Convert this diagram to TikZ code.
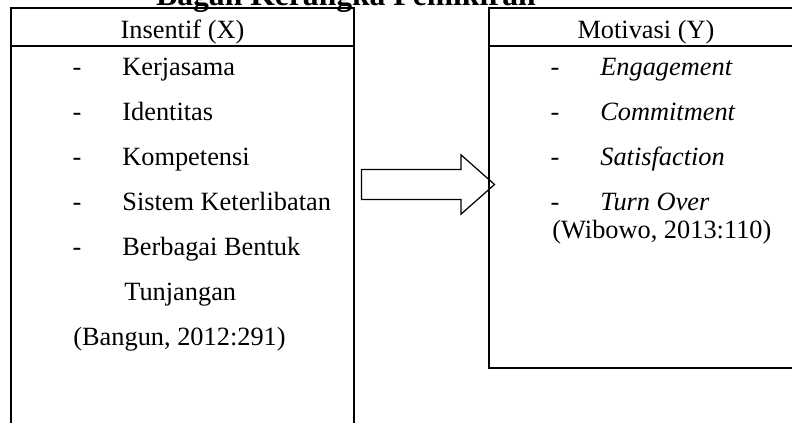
\documentclass[tikz,border=0pt]{standalone}
\usepackage{fontspec}
\setmainfont{Liberation Serif}
\usetikzlibrary{shapes.arrows}

\tikzset{
  kotak/.style={line width=0.7pt},
  strip/.style={anchor=base, inner sep=0pt, font=\fontsize{15}{18}\selectfont},
  butir/.style={anchor=base west, inner sep=0pt, font=\fontsize{15}{18}\selectfont},
  miring/.style={butir, font=\fontsize{15}{18}\selectfont\itshape},
  judul/.style={anchor=base, inner sep=0pt, font=\fontsize{18}{22}\selectfont\bfseries},
  panah/.style={draw, line width=0.7pt, shape=single arrow, single arrow head extend=0.29cm,
    single arrow tip angle=83, single arrow head indent=0pt, inner xsep=0pt, inner ysep=0.29cm,
    minimum height=2.66cm, outer sep=0pt}
}

\begin{document}
\begin{tikzpicture}[x=0.02cm, y=-0.02cm]
    \useasboundingbox (0,0) rectangle (792,423);

    % Judul (terpotong di atas)
    \node[judul] (judul) at (346,5) {Bagan Kerangka Pemikiran};

    % Kotak kiri: Insentif
    \draw[kotak] (11,8) rectangle (354,440);
    \draw[kotak] (11,46) -- (354,46);
    \node[strip] (insentif) at (182.5,38) {Insentif (X)};
    \foreach \teks [count=\i] in {Kerjasama, Identitas, Kompetensi, Sistem Keterlibatan, Berbagai Bentuk} {
        \node[strip] (sx\i) at (77,30+45*\i) {-};
        \node[butir] (x\i) at (122,30+45*\i) {\teks};
    }
    \node[butir] (tunjangan) at (124,300) {Tunjangan};
    \node[butir] (bangun) at (73,345) {(Bangun, 2012:291)};

    % Kotak kanan: Motivasi
    \draw[kotak] (489,8) rectangle (810,368);
    \draw[kotak] (489,46) -- (810,46);
    \node[strip] (motivasi) at (646,38) {Motivasi (Y)};
    \foreach \teks [count=\i] in {Engagement, Commitment, Satisfaction, Turn Over} {
        \node[strip] (sy\i) at (555,30+45*\i) {-};
        \node[miring] (y\i) at (600,30+45*\i) {\teks};
    }
    \node[butir] (wibowo) at (552,238) {(Wibowo, 2013:110)};

    % Panah X ke Y
    \node[panah] (panah) at (419.5,184.5) {};
\end{tikzpicture}
\end{document}
